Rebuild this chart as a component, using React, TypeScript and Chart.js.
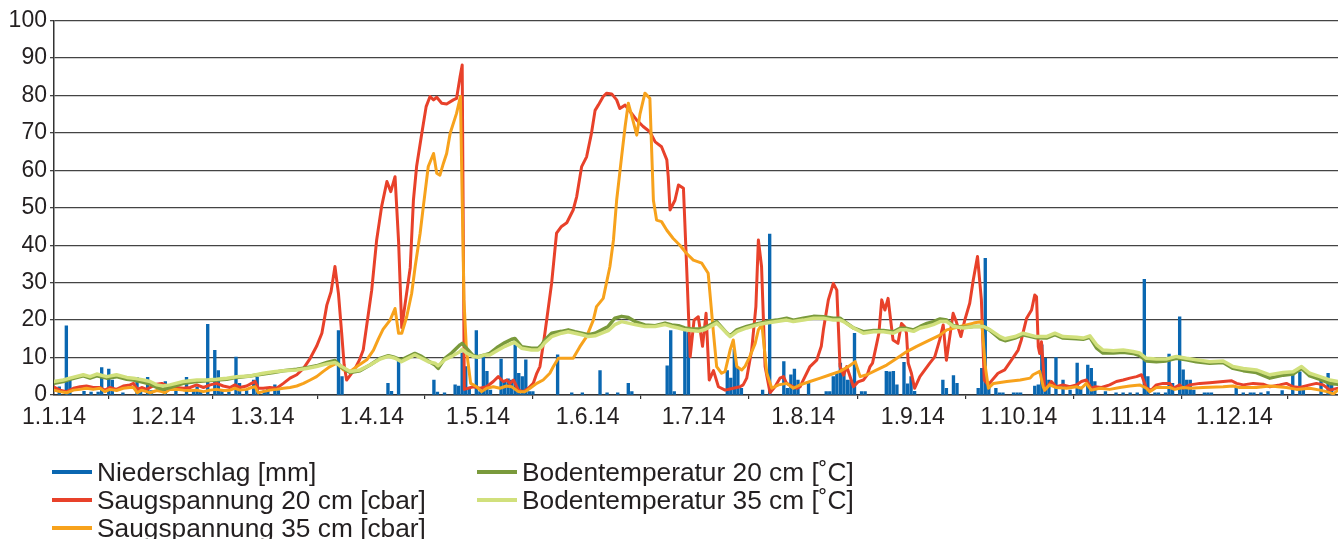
import React, { useEffect, useRef } from "react";
import { Chart, registerables } from "chart.js";

Chart.register(...registerables);

// ---- axis ticks ----
const monthStarts = [0, 31, 59, 90, 120, 151, 181, 212, 243, 273, 304, 334];
const monthLabels = ["1.1.14", "1.2.14", "1.3.14", "1.4.14", "1.5.14", "1.6.14", "1.7.14", "1.8.14", "1.9.14", "1.10.14", "1.11.14", "1.12.14"];
const yMin = 0;
const yMax = 100;
const yStep = 10;
const xEnd = 363.3;

// ---- series names ----
const seriesNames = [
  "Niederschlag [mm]",
  "Saugspannung 20 cm [cbar]",
  "Saugspannung 35 cm [cbar]",
  "Bodentemperatur 20 cm [˚C]",
  "Bodentemperatur 35 cm [˚C]",
];
const seriesColors = ["#0a67b1", "#e8412a", "#f7a21c", "#7a9a3c", "#d1e07c"];

// ---- Niederschlag: day of year (0 = 1.1.) and mm ----
const precipDays = [1, 3, 4, 8, 10, 12, 13, 15, 16, 19, 23, 24, 26, 27, 31, 34, 37, 39, 40, 41, 43, 45, 46, 47, 49, 51, 52, 54, 56, 57, 59, 60, 62, 63,
  80, 81, 94, 95, 97, 107, 108, 110, 113, 114, 115, 116, 117, 119, 120, 121, 122, 123, 126, 127, 128, 129, 130, 131, 132, 133, 134, 135,
  142, 146, 149, 154, 156, 159, 162, 163, 173, 174, 175, 178, 179, 190, 191, 192, 193, 194, 200, 202, 206, 207, 208, 209, 210, 213,
  218, 219, 220, 221, 222, 223, 224, 225, 226, 228, 229, 235, 236, 237, 238, 240, 241, 242, 243, 251, 252, 254, 255, 261, 262, 263, 264,
  266, 267, 268, 271, 272, 273, 277, 278, 279, 280, 281, 283, 285, 287, 289, 290, 292, 293, 294, 297, 300, 302, 304, 306, 308, 309,
  311, 312, 314, 315, 316, 318, 319, 320, 321, 322, 325, 326, 327, 334, 336, 338, 339, 341, 343, 347, 350, 352, 353, 358, 360, 361];
const precipMm = [2.2, 18.5, 4.7, 1, 0.8, 0.8, 7.3, 6.9, 4, 0.6, 4.7, 1.5, 4.7, 1.2, 3.6, 1.5, 4.7, 1.2, 2.2, 1.2, 18.9, 11.9, 6.5, 1.2, 0.8, 10.1, 3.1, 1.2, 4, 4.7, 1.2, 1.5, 2.7, 1.2,
  17.2, 4.9, 3.1, 1, 9.6, 4, 0.8, 0.6, 2.7, 2.4, 11.2, 7.6, 1.8, 17.2, 0.9, 10.7, 6.3, 1.3, 9.6, 3.6, 4.3, 4, 13.4, 5.8, 4.9, 9.4, 0.9, 0.9,
  10.7, 0.6, 0.6, 6.5, 0.6, 0.6, 3.1, 0.9, 7.8, 17.2, 0.9, 17.4, 16.7, 6.5, 4.5, 12.2, 7.1, 1.8, 1.3, 43, 8.9, 1.8, 5.4, 6.9, 4, 3.1,
  0.9, 0.9, 4.9, 5.8, 8.5, 7.1, 4, 4, 16.5, 0.9, 0.9, 6.3, 6.2, 6.3, 2.7, 8.7, 3, 4.9, 1, 4, 1.8, 5.2, 3.1, 1.8, 7.1, 36.5, 2.7,
  1.8, 0.6, 0.6, 0.6, 0.6, 0.6, 2.4, 2.7, 13.4, 9.8, 4, 10, 4, 1.3, 8.5, 1.5, 8, 7.1, 3.6, 0.9, 0.6, 0.6, 0.6, 0.6, 30.9, 4.9,
  0.6, 0.6, 0.6, 10.9, 3.1, 20.9, 6.7, 4, 4, 1.3, 0.6, 0.6, 0.6, 2.2, 0.6, 0.6, 0.6, 0.6, 0.9, 1.2, 5.8, 6.2, 2.2, 4, 5.8, 3.1];

// ---- Saugspannung 20 cm: [day, cbar] ----
const saug20: [number, number][] = [
  [0, 2.1], [1.7, 1.3], [3.6, 0.9], [5.5, 1.8], [7.4, 2.2], [9.2, 2.4], [11.1, 2], [13, 2], [14.4, 1.3], [15.8, 2], [17.7, 1.5], [19.6, 2.4],
  [21.5, 2.7], [22.5, 3.1], [23.6, 1.5], [24.8, 2], [26.2, 1.5], [27.2, 2], [29.1, 2.9], [30.5, 3.1], [31.4, 2.7], [32.8, 2], [34.7, 2],
  [36.6, 1.8], [38.5, 2], [40.4, 2.7], [42.3, 2], [44.2, 2.7], [46, 3.1], [47.9, 2.4], [49.8, 2], [51.2, 2.7], [52.6, 2], [54.5, 2.4],
  [55.9, 3.1], [56.9, 3.6], [57.8, 1.8], [59.2, 1.8], [61.1, 2], [63, 1.8], [64.9, 3.1], [66.8, 4.5], [68.7, 5.4], [70.6, 7.1], [72.5, 9.8],
  [74.3, 13], [75.8, 16.5], [77.2, 24], [78.4, 27.6], [79.5, 34.3], [80.5, 27], [81.4, 16.5], [82.1, 8], [82.8, 4], [84.2, 5.8], [85.2, 7.1],
  [86.4, 9.3], [87.5, 12], [88.5, 18.7], [89.9, 28], [91.3, 41.4], [92.7, 50.3], [94.2, 57], [95.3, 54.3], [96.5, 58.3], [97.5, 41],
  [98.4, 18], [99.3, 24], [100.8, 34], [101.7, 52], [102.6, 61], [104.1, 70], [105.3, 77], [106.4, 79.7], [107.4, 78.8], [108.3, 79.5],
  [109.7, 77.9], [111.1, 77.7], [113, 78.8], [113.9, 79.2], [114.9, 85], [115.5, 88.1], [116.1, 1.5], [118.6, 2.2], [120.5, 1.8],
  [122.4, 2.2], [124.3, 3.6], [125.7, 4.9], [127.1, 3.6], [128.1, 4], [129, 3.1], [130, 4], [131.4, 1.3], [132.8, 0.9], [134.2, 1.8],
  [135.6, 3.1], [136.6, 5.8], [137.5, 7.6], [138.9, 16.5], [140.8, 29.8], [142.2, 43.2], [143.6, 45], [145.1, 46], [146.9, 49.4],
  [147.9, 53], [149.3, 61], [150.7, 63.6], [152.1, 70], [153.1, 76], [154, 77.4], [155.4, 79.7], [156.4, 80.6], [157.8, 80.4],
  [159.2, 78.8], [160.1, 76.5], [161.6, 77.4], [163, 75.7], [164.9, 73.4], [166.7, 71.7], [168.6, 70.3], [170.1, 67.6], [171.9, 66.3],
  [173.4, 62.8], [173.8, 58.3], [174.3, 49.4], [175.7, 52], [176.7, 56.1], [178.1, 55.2], [179, 34.3], [180, 10.2], [181.1, 20],
  [182.3, 20.9], [183.5, 13], [184.5, 21.8], [185.4, 4], [186.6, 6.5], [188, 2.2], [189.9, 1.3], [192.2, 1.8], [194.1, 2.2], [195, 2.7],
  [196, 4.5], [197.4, 12], [198.6, 23.6], [199.3, 41.4], [200.2, 34.3], [201.2, 7.6], [202.6, 0.6], [204, 2.2], [205.4, 4.5], [206.4, 4.9],
  [207.3, 3.1], [209.2, 2.2], [210.1, 1.8], [211.1, 2.2], [212, 4], [213.9, 7.6], [215.8, 9.3], [217.1, 13], [217.7, 17.4], [219.1, 25.4],
  [220.5, 29.8], [221.5, 28], [222.4, 7.6], [223.4, 5.3], [224.3, 7.6], [226.2, 2.2], [227.5, 3.5], [229, 4], [230.1, 5.4], [230.9, 7.6],
  [231.6, 8.5], [232.8, 13.8], [233.4, 16.5], [234.2, 25.4], [235.1, 22.7], [236, 25.8], [237.4, 14.7], [238.8, 13.8], [239.8, 19.1],
  [240.7, 18.2], [241.2, 16.5], [241.7, 8.5], [242.6, 5.8], [243.5, 1.8], [245, 4.9], [246.4, 6.7], [247.8, 8.5], [249.2, 10.2],
  [250.6, 14.7], [251.6, 18.7], [252.5, 9.3], [254.4, 21.8], [255.3, 19.6], [256.6, 15.6], [257.7, 20], [259.1, 24.5], [260.1, 30.7],
  [261.3, 37], [262.4, 25.4], [263.2, 4], [264.3, 2.7], [267.1, 5.8], [269, 6.7], [270.9, 9.3], [272.8, 12], [273.7, 14.7], [275.2, 20.5],
  [276.6, 22.7], [277.5, 26.7], [278, 26.2], [278.5, 12.9], [278.9, 11.1], [279.4, 14.2], [279.9, 7.6], [280.3, 1.3], [282.2, 3.6],
  [283.6, 2.2], [285.5, 2.7], [287.4, 2.2], [289.3, 2.7], [290.7, 3.6], [292.1, 4], [293.5, 1.8], [294.5, 2.2], [296.4, 2], [298.7, 2.7],
  [300.6, 3.6], [302.5, 4], [304.4, 4.5], [306.3, 4.9], [307.7, 5.4], [309.1, 1.8], [310.5, 1.3], [311.9, 2.7], [313.8, 3.1], [315.7, 3.1],
  [316.7, 1.8], [318.5, 2.7], [319.5, 1.8], [321.4, 2.7], [324.2, 3.1], [327, 3.3], [330.8, 3.6], [333.2, 3.8], [334.6, 3.1], [336.5, 2.7],
  [339.3, 3.1], [342.1, 2.9], [344, 2.2], [346.8, 2.7], [348.7, 3.1], [350.6, 2.2], [352.5, 2], [355.3, 2.7], [357.2, 3.1], [359.1, 2.7],
  [361, 1.3], [363.3, 1.8],
];

// ---- Saugspannung 35 cm: [day, cbar] ----
const saug35: [number, number][] = [
  [0, 1.3], [1.7, 0.9], [3.6, 0.6], [5.5, 1.3], [7.4, 1.5], [9.2, 1.8], [11.1, 1.5], [13, 1.8], [14.4, 0.9], [15.8, 1.5], [17.7, 1.2],
  [19.6, 1.8], [21.5, 2], [22.5, 2], [23.6, 0.6], [24.8, 1.3], [26.2, 0.9], [27.2, 0.6], [29.1, 1.2], [30.5, 0.9], [31.4, 0.6], [32.8, 1.5],
  [34.7, 1.5], [36.6, 1.3], [38.5, 1.2], [40.4, 1.3], [42.3, 0.9], [44.2, 1.3], [46, 1.5], [47.9, 1.2], [49.8, 1.3], [51.2, 1.8],
  [52.6, 1.3], [54.5, 1.5], [55.9, 2], [56.9, 2.2], [57.8, 0.6], [59.2, 0.9], [61.1, 1.3], [63, 1.5], [64.9, 1.8], [66.8, 2], [68.7, 2.4],
  [70.6, 3.1], [72.5, 4], [74.3, 4.9], [76.2, 6.3], [78.1, 7.6], [80, 8.5], [81.9, 6.7], [83.8, 6.3], [85.7, 7.6], [88.5, 9.4], [90.4, 12],
  [91.8, 15], [93.1, 17.5], [95.1, 20], [96.5, 23.1], [97.5, 16.5], [98.4, 16.5], [99.8, 20.9], [101.2, 27.1], [102.2, 34.3],
  [103.6, 43.2], [104.5, 50.3], [105.9, 61], [107.4, 64.5], [108.3, 59.2], [109.2, 58.7], [110.2, 61.9], [111.1, 64.5], [112.1, 69.9],
  [113.9, 75.2], [115, 79.7], [116, 25.4], [116.7, 12], [117.9, 3.1], [119.6, 2.2], [121, 0.9], [122.4, 1.8], [124.3, 2.2], [126.2, 1.8],
  [128, 2.4], [129.5, 2.2], [131.4, 0.9], [133.3, 0.9], [134.7, 1.8], [136.6, 3.1], [138.4, 4], [140.3, 5.8], [141.3, 7.6], [142.7, 9.8],
  [145.1, 9.8], [146.9, 9.8], [148.8, 12.9], [150.7, 15.6], [152.6, 20], [153.5, 23.6], [155.4, 25.8], [157.3, 34.3], [158.3, 41.4],
  [159.2, 52], [160.6, 63.6], [161.6, 71.7], [162.5, 77.9], [163.4, 74.8], [164.9, 69.4], [165.8, 75], [167.2, 80.6], [168.6, 79.2],
  [169.6, 52], [170.5, 46.7], [171.9, 46.3], [173.4, 44], [175.2, 41.8], [177.1, 40], [179, 37.8], [180.9, 36], [183.3, 35.2],
  [185.1, 32.5], [186.6, 16.5], [187.5, 7.6], [188.9, 5.8], [189.9, 6.3], [191.3, 12], [192.2, 14.7], [193.2, 7.6], [194.6, 6.7],
  [195.5, 7.6], [196.9, 10.3], [198.4, 13.8], [199.3, 17.4], [200.3, 18.8], [201.7, 5.8], [203.1, 1.8], [205, 2.7], [207.3, 3.1],
  [209.2, 1.8], [211.1, 2.7], [213.9, 3.6], [216.8, 4.5], [219.6, 5.4], [222.4, 6.3], [224.8, 7.6], [226.7, 8.9], [228.1, 4.9], [230, 5.4],
  [232.8, 6.7], [235.6, 8], [238.5, 9.8], [241.3, 11.6], [244.1, 13], [247, 14.3], [250.7, 16], [252.6, 17.4], [256.4, 18.3], [260.2, 19.2],
  [262.5, 19.6], [263.5, 7.6], [264.4, 1.8], [265.8, 3.1], [269.6, 3.6], [273.4, 4], [276.2, 4.5], [277, 5.4], [278.9, 6.3], [279.9, 2.2],
  [280.3, 1.3], [281.7, 2.7], [283.6, 2], [286.5, 1.8], [289.3, 2.2], [290.7, 1.8], [292.1, 3.1], [293.5, 1.3], [295.9, 1.8], [298.7, 1.5],
  [301.6, 2], [304.4, 2.4], [307.2, 2.7], [309.1, 1.8], [310, 0.9], [311.9, 2], [315.7, 2], [317.1, 1.5], [319.5, 2], [321.4, 1.8],
  [325.1, 2], [330.8, 2.2], [333.6, 2.4], [335.5, 2], [340.2, 2], [344, 2.4], [348.7, 2], [351.6, 1.5], [355.3, 1.8], [358.2, 1.3],
  [360.1, 0.9], [362, 0.3], [363.3, 1.3],
];

// ---- Bodentemperatur 20 cm: [day, °C] ----
const boden20: [number, number][] = [
  [0, 3.1], [2.6, 3.6], [4.5, 4.2], [8.3, 5.1], [10.2, 4.5], [12.1, 5.1], [14.9, 4.5], [17.7, 4.9], [20.6, 4.2], [22.5, 4], [25.3, 3.4],
  [27.2, 2.9], [29.1, 2], [30.9, 1.5], [32.8, 2], [36.6, 3.1], [40.4, 3.6], [43.2, 3.8], [46, 4], [48.9, 4.2], [51.7, 4.7], [55.5, 5.1],
  [59.2, 5.6], [62.1, 6], [64.9, 6.5], [68.7, 6.9], [71.5, 7.3], [74.3, 7.8], [77.2, 8.7], [79.5, 9.2], [81.4, 7.4], [83.8, 6],
  [86.6, 6.5], [89.4, 8], [92.3, 9.8], [94.6, 10.5], [96.5, 10], [98.3, 9.4], [102.1, 11.1], [104, 10.3], [105.9, 9.1], [107.8, 8],
  [108.7, 7.1], [110.6, 9.8], [112.5, 11.2], [114.9, 13.4], [115.5, 13.8], [116.7, 12.5], [118.6, 10.5], [120, 10.2], [121.9, 10.7],
  [123.3, 11.1], [125.7, 12.9], [127.6, 14], [129.5, 14.9], [130.4, 15.1], [132.3, 12.9], [135.1, 12.5], [137, 12.5], [138, 13.4],
  [138.9, 14.7], [140.8, 16.5], [143.6, 17], [145.5, 17.4], [147.4, 16.9], [149.3, 16.5], [151.2, 16.1], [153.1, 16.5], [155, 17.4],
  [156.8, 18.3], [158.7, 20.5], [160.6, 21], [162.5, 20.7], [164.4, 19.6], [167.2, 18.7], [170.1, 18.5], [172.9, 19.2], [174.8, 18.7],
  [176.7, 18.5], [178.5, 17.9], [180.4, 17.6], [182.3, 17.6], [184.2, 18], [187.5, 19.6], [190.4, 16.5], [191.3, 15.8], [193.2, 17.4],
  [196, 18.3], [199.3, 19.1], [201.7, 19.6], [204.5, 20], [207.3, 20.5], [209.2, 20], [212, 20.5], [214.9, 21], [217.7, 20.9],
  [220.5, 20.5], [222.4, 20.5], [223.4, 19.8], [226.2, 17.9], [229, 16.9], [231.9, 17.2], [234.7, 17.2], [237.5, 16.9], [239.4, 17.8],
  [241.3, 17.8], [243.2, 17.4], [245.1, 18.3], [247, 19.1], [248.8, 19.6], [250.7, 20.3], [252.6, 20], [254.5, 18.5], [257.3, 18],
  [260.2, 18.3], [263, 18.3], [264.9, 17.2], [267.7, 15], [269.1, 14.5], [271.9, 15.2], [274.2, 16.1], [277.9, 15.3], [280.8, 15.2],
  [283.2, 16.1], [285.5, 15.2], [289.3, 15], [291.2, 14.9], [293.1, 15.4], [295, 12.5], [296.8, 11.2], [299.7, 11.2], [302.5, 11.4],
  [305.3, 11.1], [307.2, 10.5], [309.1, 9.1], [311.9, 8.9], [314.7, 9.1], [317.6, 9.8], [320.4, 9.4], [323.2, 8.9], [327, 8.5],
  [330.8, 8.7], [333.6, 7.1], [336.5, 6.5], [340.2, 6], [344, 4.5], [347.8, 5.3], [350.6, 5.6], [353, 7.1], [355.3, 5.1], [358.2, 4.2],
  [361, 3.1], [363.3, 2.9],
];

// ---- Bodentemperatur 35 cm: [day, °C] ----
const boden35: [number, number][] = [
  [0, 3.6], [2.6, 4], [4.5, 4.5], [8.3, 5.4], [10.2, 4.9], [12.1, 5.6], [14.9, 4.9], [17.7, 5.4], [20.6, 4.7], [22.5, 4.5], [25.3, 4],
  [27.2, 3.6], [29.1, 2.7], [30.9, 2.4], [32.8, 2.7], [36.6, 3.6], [40.4, 4], [43.2, 4], [46, 4.2], [48.9, 4.5], [51.7, 4.9], [55.5, 5.1],
  [59.2, 5.8], [62.1, 6.2], [64.9, 6.5], [68.7, 6.7], [71.5, 7.1], [74.3, 7.6], [77.2, 8.3], [79.5, 8.7], [81.4, 7.6], [83.8, 6.3],
  [86.6, 6.7], [89.4, 8], [92.3, 9.6], [94.6, 10.3], [96.5, 9.8], [98.3, 8.9], [102.1, 10.7], [104, 9.8], [105.9, 8.9], [107.8, 8.5],
  [108.7, 7.8], [110.6, 9.4], [112.5, 10.3], [114.9, 11.6], [115.5, 12.2], [116.7, 11.2], [118.6, 10.3], [120, 10.1], [121.9, 10.7],
  [123.3, 10.7], [125.7, 12], [127.6, 13], [129.5, 13.8], [130.4, 14], [132.3, 12.5], [135.1, 12], [137, 12], [138, 12.9], [138.9, 14],
  [140.8, 15.6], [143.6, 16.5], [145.5, 16.9], [147.4, 16.5], [149.3, 16.1], [151.2, 15.6], [153.1, 15.8], [155, 16.5], [156.8, 17.2],
  [158.7, 18.8], [160.6, 19.6], [162.5, 19.2], [164.4, 18.8], [167.2, 18.3], [170.1, 18.3], [172.9, 18.8], [174.8, 18.3], [176.7, 17.9],
  [178.5, 17.4], [180.4, 17.2], [182.3, 17], [184.2, 17.5], [187.5, 19.2], [190.4, 16.5], [191.3, 15.6], [193.2, 16.9], [196, 17.9],
  [199.3, 18.8], [201.7, 19.2], [204.5, 19.6], [207.3, 20], [209.2, 19.6], [212, 20], [214.9, 20.5], [217.7, 20.5], [220.5, 20],
  [222.4, 20], [223.4, 19.6], [226.2, 17.9], [229, 16.5], [231.9, 16.9], [234.7, 16.9], [237.5, 16.5], [239.4, 17.4], [241.3, 17.4],
  [243.2, 17], [245.1, 17.9], [247, 18.3], [248.8, 18.8], [250.7, 19.6], [252.6, 19.6], [254.5, 18.3], [257.3, 17.9], [260.2, 18.3],
  [263, 18.3], [264.9, 17.4], [267.7, 15.6], [269.1, 15], [271.9, 15.6], [274.2, 16.5], [277.9, 15.6], [280.8, 15.6], [283.2, 16.5],
  [285.5, 15.6], [289.3, 15.4], [291.2, 15.2], [293.1, 15.8], [295, 13.4], [296.8, 12], [299.7, 11.8], [302.5, 12], [305.3, 11.6],
  [307.2, 11.2], [309.1, 9.8], [311.9, 9.6], [314.7, 9.6], [317.6, 10.3], [320.4, 9.8], [323.2, 9.4], [327, 8.9], [330.8, 9.1],
  [333.6, 7.6], [336.5, 7.1], [340.2, 6.7], [344, 5.4], [347.8, 6], [350.6, 6.2], [353, 7.6], [355.3, 5.8], [358.2, 4.9], [361, 4],
  [363.3, 3.6],
];

const FONT = "'Liberation Sans', Arial, Helvetica, sans-serif";

const toPoints = (arr: [number, number][]) => arr.map(([x, y]) => ({ x, y }));

export default function App() {
  const canvasRef = useRef<HTMLCanvasElement | null>(null);

  useEffect(() => {
    document.body.style.margin = "0";
    const canvas = canvasRef.current;
    if (!canvas) return;
    const lineSets: [number, [number, number][], number, number][] = [
      [1, saug20, 3, 4],
      [2, saug35, 3, 3],
      [3, boden20, 3.5, 2],
      [4, boden35, 3.5, 1],
    ];
    const chart = new Chart(canvas, {
      type: "line",
      data: {
        datasets: [
          {
            type: "bar",
            label: seriesNames[0],
            data: precipDays.map((d, i) => ({ x: d + 0.5, y: precipMm[i] })),
            backgroundColor: seriesColors[0],
            borderWidth: 0,
            barThickness: 2.7,
            grouped: false,
            order: 5,
          } as any,
          ...lineSets.map(([idx, arr, w, ord]) => ({
            type: "line",
            label: seriesNames[idx],
            data: toPoints(arr),
            borderColor: seriesColors[idx],
            backgroundColor: seriesColors[idx],
            borderWidth: w,
            pointRadius: 0,
            tension: 0,
            borderJoinStyle: "round",
            borderCapStyle: "round",
            fill: false,
            order: ord,
          } as any)),
        ],
      },
      options: {
        responsive: false,
        animation: false,
        events: [],
        layout: { padding: { left: 5.6, top: 20.5, right: 0, bottom: 102.4 } },
        plugins: { legend: { display: false }, tooltip: { enabled: false }, title: { display: false } },
        scales: {
          x: {
            type: "linear",
            min: 0,
            max: xEnd,
            offset: false,
            afterBuildTicks: (scale: any) => {
              scale.ticks = monthStarts.map((v) => ({ value: v }));
            },
            ticks: {
              autoSkip: false,
              maxRotation: 0,
              minRotation: 0,
              padding: 5,
              color: "#231f20",
              font: { family: FONT, size: 23 },
              callback: (v: any) => {
                const i = monthStarts.indexOf(Number(v));
                return i >= 0 ? monthLabels[i] : "";
              },
            },
            grid: { display: true, drawOnChartArea: false, drawTicks: true, tickLength: 4, color: "#333", lineWidth: 1.2 },
            border: { display: true, color: "#333", width: 1.5 },
          },
          y: {
            type: "linear",
            min: yMin,
            max: yMax,
            ticks: {
              stepSize: yStep,
              padding: 3,
              color: "#231f20",
              font: { family: FONT, size: 23 },
            },
            grid: { color: "#444", lineWidth: 1.3, drawTicks: true, tickLength: 4 },
            border: { display: true, color: "#333", width: 1.5 },
          },
        },
      } as any,
    });
    return () => chart.destroy();
  }, []);

  const legendRows: [number, number, number][] = [
    [0, 52, 457.5],
    [1, 52, 485.5],
    [2, 52, 513.5],
    [3, 477, 457.5],
    [4, 477, 485.5],
  ];

  return (
    <div style={{ position: "fixed", left: 0, top: 0, width: 1338, height: 539, overflow: "hidden", background: "#fff" }}>
      <canvas ref={canvasRef} width={1338} height={539} style={{ display: "block" }} />
      {legendRows.map(([i, x, y]) => (
        <div
          key={i}
          style={{
            position: "absolute",
            left: x,
            top: y,
            height: 28,
            display: "flex",
            alignItems: "center",
            whiteSpace: "nowrap",
            fontFamily: FONT,
            fontSize: 26.3,
            lineHeight: "28px",
            color: "#231f20",
          }}
        >
          <span style={{ display: "inline-block", width: 40, height: 4, background: seriesColors[i], marginRight: 5 }} />
          <span>{seriesNames[i]}</span>
        </div>
      ))}
    </div>
  );
}
